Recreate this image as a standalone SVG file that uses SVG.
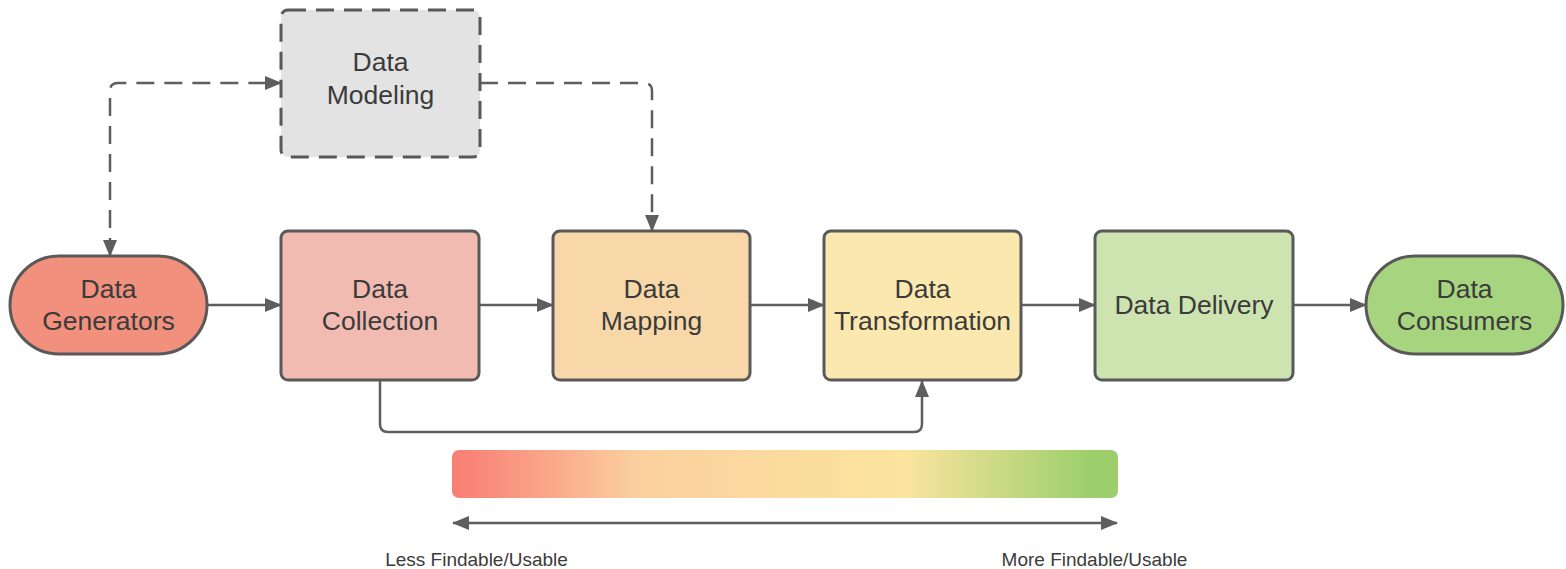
<svg xmlns="http://www.w3.org/2000/svg" width="1566" height="569" viewBox="0 0 1566 569">
  <style>
    .box { stroke: #595959; stroke-width: 3; }
    .dashed { stroke-dasharray: 18 10; }
    .lbl { font-family: "Liberation Sans", Arial, sans-serif; font-size: 26.5px; fill: #3b3b3b; text-anchor: middle; }
    .small { font-family: "Liberation Sans", Arial, sans-serif; font-size: 19px; fill: #3b3b3b; text-anchor: middle; }
    .wire { fill: none; stroke: #5e5e5e; stroke-width: 2.5; }
  </style>
  <defs>
    <marker id="arrow" viewBox="0 0 17 14" refX="16" refY="7" markerWidth="17" markerHeight="14" markerUnits="userSpaceOnUse" orient="auto-start-reverse">
      <path d="M0,0 L17,7 L0,14 Z" fill="#5e5e5e"/>
    </marker>
    <linearGradient id="scale" x1="0" y1="0" x2="1" y2="0">
      <stop offset="0" stop-color="#f97f74"/>
      <stop offset="0.05" stop-color="#f98a7b"/>
      <stop offset="0.28" stop-color="#fbd09e"/>
      <stop offset="0.68" stop-color="#fbe49e"/>
      <stop offset="0.96" stop-color="#9ccf6c"/>
      <stop offset="1" stop-color="#9ccf6c"/>
    </linearGradient>
  </defs>

  <rect width="1566" height="569" fill="#ffffff"/>

  <!-- connectors -->
  <g id="connectors">
    <path class="wire dashed" d="M110,256 L110,91 Q110,83 118,83 L281,83" marker-start="url(#arrow)" marker-end="url(#arrow)"/>
    <path class="wire dashed" d="M480,83 L644,83 Q652,83 652,91 L652,231" marker-end="url(#arrow)"/>
    <path class="wire" d="M207,305 L281,305" marker-end="url(#arrow)"/>
    <path class="wire" d="M479,305 L553,305" marker-end="url(#arrow)"/>
    <path class="wire" d="M750,305 L824,305" marker-end="url(#arrow)"/>
    <path class="wire" d="M1021,305 L1095,305" marker-end="url(#arrow)"/>
    <path class="wire" d="M1293,305 L1366,305" marker-end="url(#arrow)"/>
    <path class="wire" d="M380,380 L380,424 Q380,432 388,432 L914,432 Q922,432 922,424 L922,381" marker-end="url(#arrow)"/>
    <path class="wire" d="M453,523 L1117,523" marker-start="url(#arrow)" marker-end="url(#arrow)"/>
  </g>

  <g id="data-modeling">
    <rect class="box dashed" x="281" y="10" width="199" height="147" rx="7" fill="#e3e3e3"/>
    <text class="lbl" x="380.5" y="71">Data</text>
    <text class="lbl" x="380.5" y="104">Modeling</text>
  </g>

  <g id="data-generators">
    <rect class="box" x="10" y="256" width="197" height="98" rx="49" fill="#f0907d"/>
    <text class="lbl" x="108.5" y="298">Data</text>
    <text class="lbl" x="108.5" y="330">Generators</text>
  </g>

  <g id="data-collection">
    <rect class="box" x="281" y="231" width="198" height="149" rx="7" fill="#f2bbb1"/>
    <text class="lbl" x="380" y="298">Data</text>
    <text class="lbl" x="380" y="330">Collection</text>
  </g>

  <g id="data-mapping">
    <rect class="box" x="553" y="231" width="197" height="149" rx="7" fill="#f8d8a9"/>
    <text class="lbl" x="651.5" y="298">Data</text>
    <text class="lbl" x="651.5" y="330">Mapping</text>
  </g>

  <g id="data-transformation">
    <rect class="box" x="824" y="231" width="197" height="149" rx="7" fill="#fbe8ae"/>
    <text class="lbl" x="922.5" y="298">Data</text>
    <text class="lbl" x="922.5" y="330">Transformation</text>
  </g>

  <g id="data-delivery">
    <rect class="box" x="1095" y="231" width="198" height="149" rx="7" fill="#cde4b1"/>
    <text class="lbl" x="1194" y="314">Data Delivery</text>
  </g>

  <g id="data-consumers">
    <rect class="box" x="1366" y="256" width="197" height="98" rx="49" fill="#a6d47f"/>
    <text class="lbl" x="1464.5" y="298">Data</text>
    <text class="lbl" x="1464.5" y="330">Consumers</text>
  </g>

  <g id="findability-scale">
    <rect x="452" y="450" width="666" height="48" rx="7" fill="url(#scale)"/>
    <text class="small" x="476.5" y="566">Less Findable/Usable</text>
    <text class="small" x="1094.5" y="566">More Findable/Usable</text>
  </g>
</svg>
